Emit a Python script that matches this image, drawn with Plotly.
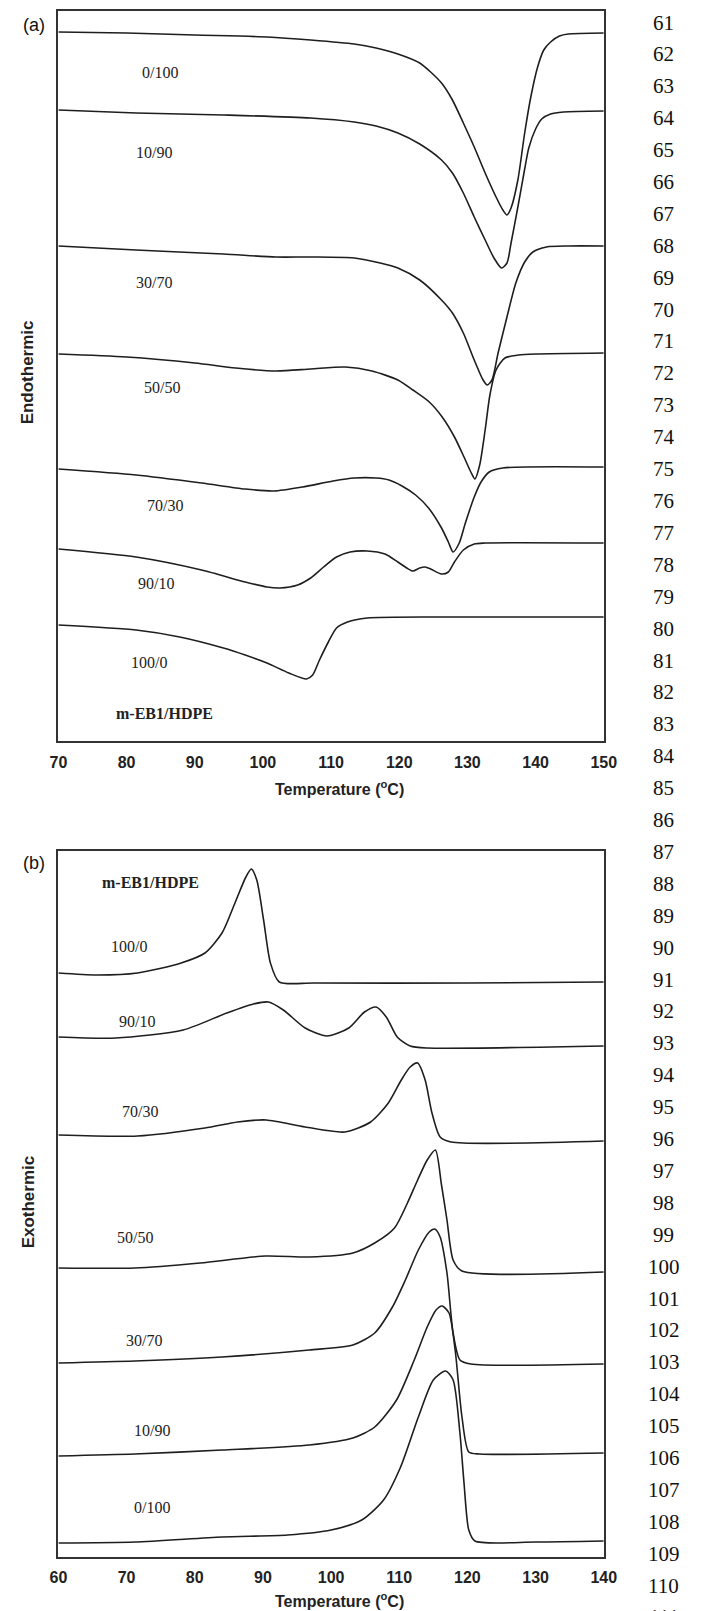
import plotly.graph_objects as go

# ---------------- Panel (a): heating scans (endothermic), heat flow a.u. ----------------
A_T_0_100 = [70, 80, 90, 100.6, 107, 113.4, 116.6, 119.8, 123, 124.6, 126.2, 127.8, 129.4, 131, 132.6, 134.2, 135.2, 135.8, 136.4, 137.4, 138.4, 139.3, 140.3, 141.2, 142.2, 143.5, 144.8, 150]
A_Y_0_100 = [70.9, 70.8, 70.6, 70.4, 70.1, 69.7, 69.3, 68.7, 67.8, 66.9, 65.8, 64.1, 61.8, 59.4, 56.8, 54.4, 53.1, 52.6, 53.3, 56.1, 60.8, 64.4, 67.4, 69.1, 69.9, 70.5, 70.7, 70.8]

A_T_10_90 = [70, 81.4, 94.2, 107, 113.4, 116.6, 119.8, 123, 126.2, 127.8, 129.4, 131, 132.6, 133.9, 135, 135.8, 136.4, 137.4, 138.4, 139, 140, 140.9, 142.2, 144.1, 150]
A_Y_10_90 = [63.1, 62.8, 62.6, 62.3, 61.9, 61.5, 60.8, 59.7, 58.1, 56.8, 54.8, 52.4, 50.1, 48.3, 47.3, 47.8, 49.8, 53.4, 57.2, 59.3, 61.2, 62.2, 62.7, 62.9, 63.0]

A_T_30_70 = [70, 81.4, 94.2, 101.9, 107, 113.4, 117.2, 119.8, 123, 126.2, 127.8, 129.4, 131, 132.3, 132.9, 133.6, 134.5, 135.8, 137.1, 138.4, 139.6, 141.6, 144.8, 150]
A_Y_30_70 = [49.5, 49.1, 48.7, 48.4, 48.4, 48.3, 47.8, 47.3, 46.1, 44.1, 42.8, 40.8, 38.1, 36.1, 35.6, 36.1, 38.8, 42.4, 45.8, 47.9, 48.9, 49.4, 49.5, 49.5]

A_T_50_50 = [70, 80, 90, 96, 101.9, 107, 112.1, 116, 119.8, 122, 124.4, 126.3, 128.1, 129.5, 130.5, 131.1, 131.8, 132.6, 133.3, 134.2, 135.5, 137.5, 140, 150]
A_Y_50_50 = [38.7, 38.4, 37.8, 37.3, 37.0, 37.2, 37.4, 37.0, 36.1, 35.1, 33.9, 32.4, 30.4, 28.4, 26.9, 26.2, 27.6, 31.1, 34.6, 37.1, 38.3, 38.6, 38.7, 38.8]

A_T_70_30 = [70, 81.4, 91, 97.4, 101.6, 105.8, 110.3, 113.4, 116.6, 118.5, 120.4, 122.4, 124.3, 126.2, 127.2, 127.9, 128.8, 129.7, 131, 132, 133.2, 135.2, 150]
A_Y_70_30 = [27.2, 26.6, 25.8, 25.2, 25.0, 25.4, 26.0, 26.3, 26.3, 26.1, 25.5, 24.6, 23.3, 21.3, 19.9, 18.9, 19.8, 21.8, 24.4, 25.9, 26.9, 27.3, 27.4]

A_T_90_10 = [70, 81.4, 91, 97.4, 100.6, 102.5, 105.1, 107, 108.9, 110.8, 112.8, 115.3, 117.9, 119.8, 121.1, 122, 123, 123.8, 124.6, 126.2, 127.2, 128.1, 129.4, 131, 132.6, 150]
A_Y_90_10 = [19.2, 18.4, 17.1, 15.9, 15.4, 15.3, 15.6, 16.3, 17.4, 18.4, 18.9, 19.0, 18.7, 17.9, 17.3, 17.0, 17.3, 17.4, 17.2, 16.7, 16.9, 17.9, 19.1, 19.7, 19.8, 19.8]

A_T_100_0 = [70, 81.4, 87.8, 94.2, 97.4, 100.6, 103.8, 106.4, 107.3, 108.3, 109.6, 110.8, 112.4, 115.3, 126.2, 150]
A_Y_100_0 = [11.6, 11.1, 10.4, 9.3, 8.6, 7.8, 6.8, 6.2, 6.6, 8.1, 9.9, 11.3, 11.9, 12.3, 12.4, 12.4]

A_LABELS = ["0/100", "10/90", "30/70", "50/50", "70/30", "90/10", "100/0"]
A_LABEL_T = [84.9, 84.0, 84.0, 85.2, 85.6, 84.3, 83.3]
A_LABEL_Y = [66.9, 58.9, 45.9, 35.4, 23.6, 15.8, 7.9]

# ---------------- Panel (b): cooling scans (exothermic), heat flow a.u. ----------------
B_T_100_0 = [60, 65.6, 71.6, 78, 81.5, 84, 85.9, 87.5, 88.3, 89.1, 90.1, 91.1, 92.4, 97.5, 120, 140]
B_Y_100_0 = [58.4, 58.2, 58.4, 59.4, 60.4, 62.4, 65.4, 68.0, 68.8, 67.7, 63.7, 59.4, 57.5, 57.4, 57.4, 57.5]

B_T_90_10 = [60, 68.4, 78.3, 84.7, 88.6, 90.8, 93, 96.2, 99.4, 102.6, 104.9, 106.6, 108.1, 109.7, 111.6, 114.1, 140]
B_Y_90_10 = [52.0, 51.9, 52.7, 54.4, 55.3, 55.5, 54.7, 52.9, 52.1, 52.9, 54.5, 55.0, 54.0, 52.0, 51.1, 50.9, 51.1]

B_T_70_30 = [60, 71.6, 81.5, 86.3, 90.5, 96.2, 102, 105.8, 108.4, 110.3, 111.6, 112.7, 113.8, 114.8, 116, 117.6, 140]
B_Y_70_30 = [42.2, 42.1, 42.9, 43.5, 43.7, 43.0, 42.5, 43.5, 45.4, 47.7, 49.0, 49.4, 47.7, 44.4, 42.0, 41.5, 41.6]

B_T_50_50 = [60, 71.2, 80.8, 90.4, 96.8, 103.2, 106.4, 109.3, 111.2, 112.7, 114.1, 115.3, 116.2, 117, 117.9, 119.2, 140]
B_Y_50_50 = [28.9, 28.9, 29.4, 30.1, 30.0, 30.4, 31.4, 32.9, 35.4, 37.7, 39.7, 40.7, 37.2, 33.7, 29.7, 28.6, 28.5]

B_T_30_70 = [60, 71.2, 84, 96.8, 103.2, 106.4, 109, 110.9, 112.8, 114.4, 115.2, 116, 117, 117.9, 118.9, 120.5, 140]
B_Y_30_70 = [19.4, 19.6, 20.0, 20.7, 21.2, 22.4, 25.0, 27.7, 30.7, 32.5, 32.8, 32.0, 28.4, 22.4, 19.7, 19.3, 19.3]

B_T_10_90 = [60, 71.2, 84, 96.8, 103.2, 106.4, 109.6, 112.2, 114.1, 115.4, 116.3, 117.3, 118.2, 119.2, 120.2, 121.8, 140]
B_Y_10_90 = [10.1, 10.3, 10.7, 11.2, 11.9, 13.0, 15.7, 19.7, 23.0, 24.7, 25.1, 24.4, 20.7, 14.0, 10.5, 10.3, 10.4]

B_T_0_100 = [60, 71.2, 84, 93.6, 100, 104.5, 107.7, 110.2, 112.8, 115, 116.8, 117.9, 118.9, 119.5, 120.2, 121.1, 130, 140]
B_Y_0_100 = [1.4, 1.5, 2.0, 2.2, 2.7, 3.7, 5.7, 9.0, 14.0, 17.7, 18.6, 17.7, 12.4, 7.4, 2.7, 1.6, 1.5, 1.6]

B_LABELS = ["100/0", "90/10", "70/30", "50/50", "30/70", "10/90", "0/100"]
B_LABEL_T = [70.4, 71.6, 71.9, 71.2, 72.5, 73.8, 73.8]
B_LABEL_Y = [61.1, 53.6, 44.6, 32.0, 21.7, 12.7, 5.0]

A_TICKS = [70, 80, 90, 100, 110, 120, 130, 140, 150]
B_TICKS = [60, 70, 80, 90, 100, 110, 120, 130, 140]
LINE_NUMBERS = list(range(61, 112))

# ---------------- layout constants (pixels) ----------------
W, H = 702, 1611
XL, XR = 51, 614
A_TOP, A_BOT = 11, 741
B_TOP, B_BOT = 851, 1557


def px(x):
    return x / W


def py(y):
    return 1 - y / H


LINE = dict(color="#1e1e1e", width=1.6, shape="spline", smoothing=0.7)

fig = go.Figure()
for t, y in [(A_T_0_100, A_Y_0_100), (A_T_10_90, A_Y_10_90), (A_T_30_70, A_Y_30_70),
             (A_T_50_50, A_Y_50_50), (A_T_70_30, A_Y_70_30), (A_T_90_10, A_Y_90_10),
             (A_T_100_0, A_Y_100_0)]:
    fig.add_trace(go.Scatter(x=t, y=y, mode="lines", line=LINE, xaxis="x", yaxis="y",
                             showlegend=False, hoverinfo="skip"))
for t, y in [(B_T_100_0, B_Y_100_0), (B_T_90_10, B_Y_90_10), (B_T_70_30, B_Y_70_30),
             (B_T_50_50, B_Y_50_50), (B_T_30_70, B_Y_30_70), (B_T_10_90, B_Y_10_90),
             (B_T_0_100, B_Y_0_100)]:
    fig.add_trace(go.Scatter(x=t, y=y, mode="lines", line=LINE, xaxis="x2", yaxis="y2",
                             showlegend=False, hoverinfo="skip"))

tickfont = dict(family="Liberation Sans, Arial, sans-serif", size=16, color="#222", weight="bold")
axis_common = dict(showline=True, mirror=True, linecolor="#333", linewidth=1.5,
                   showgrid=False, zeroline=False)

fig.update_layout(
    width=W, height=H, margin=dict(l=0, r=0, t=0, b=0),
    paper_bgcolor="white", plot_bgcolor="white",
    xaxis=dict(domain=[px(XL), px(XR)], range=[70, 150], anchor="y", tickvals=A_TICKS,
               ticks="outside", ticklen=6, tickcolor="rgba(0,0,0,0)", tickfont=tickfont, **axis_common),
    yaxis=dict(domain=[py(A_BOT), py(A_TOP)], range=[0, 73.0], anchor="x",
               showticklabels=False, ticks="", **axis_common),
    xaxis2=dict(domain=[px(XL), px(XR)], range=[60, 140], anchor="y2", tickvals=B_TICKS,
                ticks="outside", ticklen=5, tickcolor="rgba(0,0,0,0)", tickfont=tickfont, **axis_common),
    yaxis2=dict(domain=[py(B_BOT), py(B_TOP)], range=[0, 70.6], anchor="x2",
                showticklabels=False, ticks="", **axis_common),
)

serif = "Liberation Serif, Times New Roman, serif"
sans = "Liberation Sans, Arial, sans-serif"
CM = dict(xanchor="center", yanchor="middle", showarrow=False)
ann = []
for lab, t, y in zip(A_LABELS, A_LABEL_T, A_LABEL_Y):
    ann.append(dict(x=t, y=y, xref="x", yref="y", text=lab,
                    font=dict(family=serif, size=16, color="#222"), **CM))
ann.append(dict(x=85.6, y=2.8, xref="x", yref="y", text="<b>m-EB1/HDPE</b>",
                font=dict(family=serif, size=16, color="#222"), **CM))
for lab, t, y in zip(B_LABELS, B_LABEL_T, B_LABEL_Y):
    ann.append(dict(x=t, y=y, xref="x2", yref="y2", text=lab,
                    font=dict(family=serif, size=16, color="#222"), **CM))
ann.append(dict(x=73.5, y=67.5, xref="x2", yref="y2", text="<b>m-EB1/HDPE</b>",
                font=dict(family=serif, size=16, color="#222"), **CM))

# panel letters
ann.append(dict(x=px(26), y=py(25), xref="paper", yref="paper", text="(a)",
                font=dict(family=sans, size=18, color="#111"), **CM))
ann.append(dict(x=px(26), y=py(863), xref="paper", yref="paper", text="(b)",
                font=dict(family=sans, size=18, color="#111"), **CM))
# axis titles
for yy in (788, 1600):
    ann.append(dict(x=px(341), y=py(yy), xref="paper", yref="paper",
                    text="Temperature (<sup>o</sup>C)",
                    font=dict(family=sans, size=16, color="#222", weight="bold"), **CM))
ann.append(dict(x=px(20), y=py(372), xref="paper", yref="paper", text="Endothermic",
                textangle=-90, font=dict(family=sans, size=17, color="#222", weight="bold"), **CM))
ann.append(dict(x=px(20), y=py(1202), xref="paper", yref="paper", text="Exothermic",
                textangle=-90, font=dict(family=sans, size=17, color="#222", weight="bold"), **CM))
# manuscript line numbers down the right margin
for i, n in enumerate(LINE_NUMBERS):
    ann.append(dict(x=px(676), y=py(22.5 + i * 31.9), xref="paper", yref="paper",
                    text=str(n), font=dict(family=serif, size=21, color="#111"), **CM))

fig.update_layout(annotations=ann)
fig.write_html("out.html", config={"displayModeBar": False},
               post_script="document.body.style.margin='0';document.body.style.overflow='hidden';")
